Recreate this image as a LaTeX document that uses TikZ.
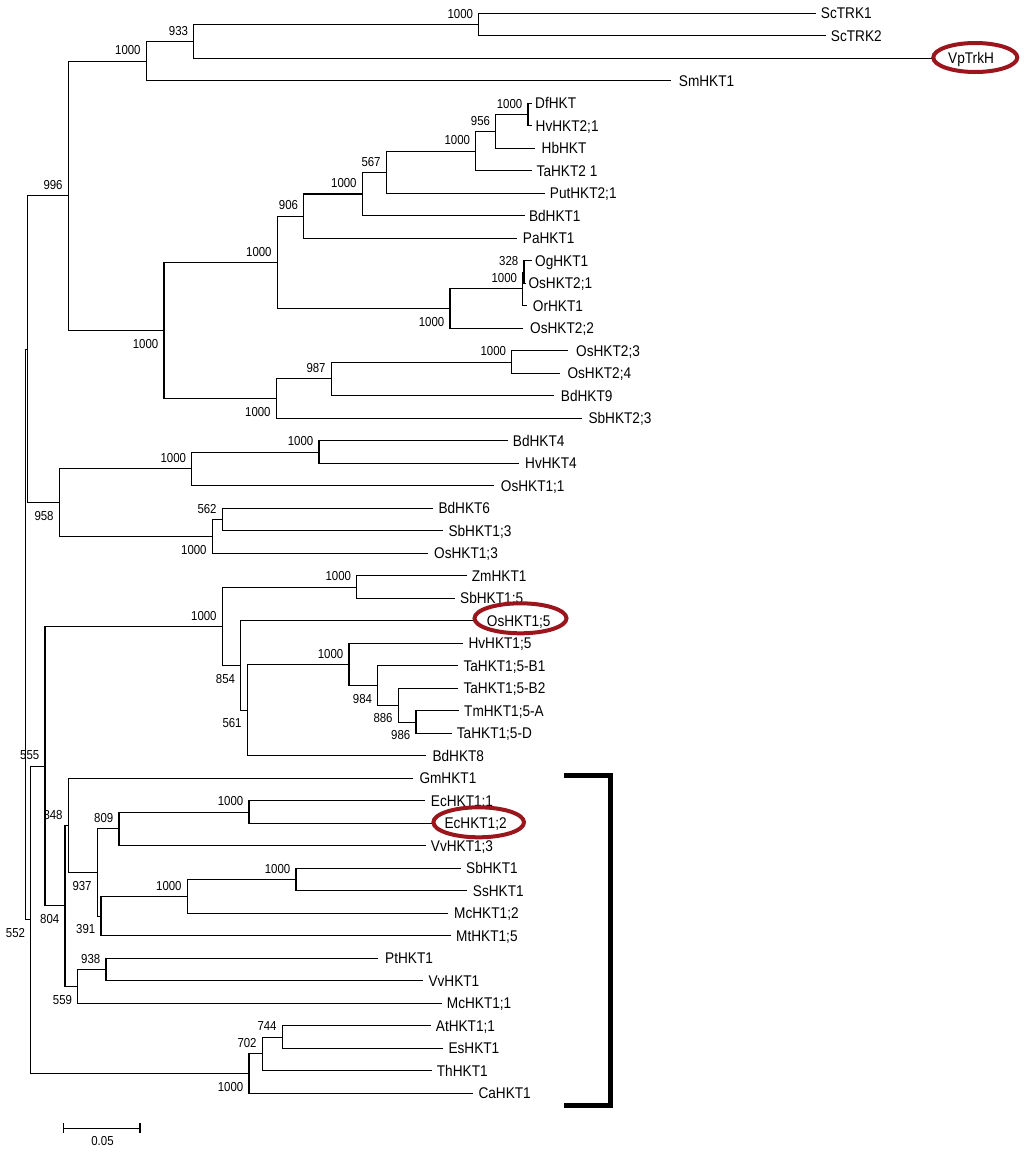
\documentclass[tikz,border=0pt]{standalone}
\usepackage{fontspec}
\setmainfont{Liberation Sans}
\newfontfamily\leaffont[FakeStretch=0.88]{Liberation Sans}
\usetikzlibrary{shapes.geometric}
\definecolor{hlred}{RGB}{155,22,28}
\newcommand{\leafnode}[5]{%
  \coordinate (#1) at (#2,#3);
  \node[leaflab] (#1-t) at (#4,#3+5.5) {#5};}
\tikzset{
  br/.style={line width=1.1pt},
  leaflab/.style={anchor=base west, inner sep=0pt, font=\leaffont\fontsize{15.5}{16}\selectfont},
  bslab/.style={anchor=base east, inner sep=0pt, font=\leaffont\fontsize{13}{14}\selectfont},
  hl/.style={draw=hlred, line width=4pt, ellipse, inner sep=0pt},
}
\begin{document}
\begin{tikzpicture}[x=1pt,y=-1pt]
\useasboundingbox (0,0) rectangle (1024,1152);
\fill[white] (0,0) rectangle (1024,1152);

% internal nodes
\coordinate (nsc) at (478.7,24.55);
\coordinate (n933) at (193.7,41.43);
\coordinate (na1) at (146.3,61.11);
\coordinate (ndf) at (528,114.55);
\coordinate (n956) at (495.7,131.43);
\coordinate (nb1) at (475.7,151.11);
\coordinate (n567) at (386.3,172.2);
\coordinate (nc1) at (362.3,194.0);
\coordinate (n906) at (303.7,216.15);
\coordinate (n328) at (524,272.05);
\coordinate (nd1) at (522.7,288.93);
\coordinate (ne1) at (450,308.6);
\coordinate (nf1) at (277.3,262.38);
\coordinate (ng1) at (511.7,362.05);
\coordinate (n987) at (331.3,378.93);
\coordinate (nh1) at (276.3,398.6);
\coordinate (ni1) at (164,330.49);
\coordinate (n996) at (68.3,195.8);
\coordinate (nj1) at (319,452.05);
\coordinate (nk1) at (191.7,468.93);
\coordinate (n562) at (222.3,519.55);
\coordinate (nl1) at (212.3,536.43);
\coordinate (n958) at (59.3,502.68);
\coordinate (nA) at (27.3,349.24);
\coordinate (nm1) at (356.7,587.05);
\coordinate (n986) at (416,722.05);
\coordinate (n886) at (398.3,705.18);
\coordinate (n984) at (377.7,685.49);
\coordinate (nn1) at (349,664.4);
\coordinate (n561) at (247.3,710.1);
\coordinate (n854) at (240.7,665.45);
\coordinate (no1) at (222.3,626.25);
\coordinate (np1) at (249,812.05);
\coordinate (n809) at (119,828.93);
\coordinate (nq1) at (296,879.55);
\coordinate (nr1) at (187.3,896.43);
\coordinate (n391) at (101,916.11);
\coordinate (n937) at (97.3,872.52);
\coordinate (n348) at (68.3,825.41);
\coordinate (n938) at (106,969.55);
\coordinate (n559) at (77.7,986.43);
\coordinate (n804) at (65,905.92);
\coordinate (n555) at (45,766.09);
\coordinate (n744) at (282.3,1037.05);
\coordinate (n702) at (262.3,1053.93);
\coordinate (ns1) at (249,1073.61);
\coordinate (n552) at (30.7,919.85);
\coordinate (root) at (25.3,634.5);

% leaves: name, line end x, y, text x, text
\leafnode{l1}{815.7}{13.3}{820.7}{ScTRK1}
\leafnode{l2}{825.7}{35.8}{830.7}{ScTRK2}
\leafnode{l3}{933.3}{58.3}{948}{VpTrkH}
\leafnode{l4}{671}{80.8}{678.7}{SmHKT1}
\leafnode{l5}{531.6}{103.3}{535}{DfHKT}
\leafnode{l6}{531.6}{125.8}{535.5}{HvHKT2;1}
\leafnode{l7}{535}{148.3}{541.5}{HbHKT}
\leafnode{l8}{532.3}{170.8}{536.5}{TaHKT2 1}
\leafnode{l9}{544.5}{193.3}{549.7}{PutHKT2;1}
\leafnode{l10}{525.3}{215.8}{528.8}{BdHKT1}
\leafnode{l11}{516.7}{238.3}{522.7}{PaHKT1}
\leafnode{l12}{531.7}{260.8}{535}{OgHKT1}
\leafnode{l13}{526}{283.3}{528.3}{OsHKT2;1}
\leafnode{l14}{526.7}{305.8}{532.7}{OrHKT1}
\leafnode{l15}{522.7}{328.3}{530}{OsHKT2;2}
\leafnode{l16}{568.3}{350.8}{576}{OsHKT2;3}
\leafnode{l17}{560}{373.3}{567.3}{OsHKT2;4}
\leafnode{l18}{554}{395.8}{560.7}{BdHKT9}
\leafnode{l19}{581.7}{418.3}{588.3}{SbHKT2;3}
\leafnode{l20}{508.3}{440.8}{512.7}{BdHKT4}
\leafnode{l21}{519.3}{463.3}{525}{HvHKT4}
\leafnode{l22}{494.3}{485.8}{500.7}{OsHKT1;1}
\leafnode{l23}{432.7}{508.3}{438.3}{BdHKT6}
\leafnode{l24}{442.7}{530.8}{448.3}{SbHKT1;3}
\leafnode{l25}{427.7}{553.3}{434}{OsHKT1;3}
\leafnode{l26}{466.7}{575.8}{471.7}{ZmHKT1}
\leafnode{l27}{455}{598.3}{460}{SbHKT1;5}
\leafnode{l28}{474.3}{620.8}{486.7}{OsHKT1;5}
\leafnode{l29}{463.3}{643.3}{468.3}{HvHKT1;5}
\leafnode{l30}{458.3}{665.8}{463.3}{TaHKT1;5-B1}
\leafnode{l31}{458.3}{688.3}{463.3}{TaHKT1;5-B2}
\leafnode{l32}{459}{710.8}{464}{TmHKT1;5-A}
\leafnode{l33}{451.7}{733.3}{456.7}{TaHKT1;5-D}
\leafnode{l34}{425.7}{755.8}{432.3}{BdHKT8}
\leafnode{l35}{413.3}{778.3}{419.3}{GmHKT1}
\leafnode{l36}{425}{800.8}{430.7}{EcHKT1;1}
\leafnode{l37}{433.3}{823.3}{444.3}{EcHKT1;2}
\leafnode{l38}{425.7}{845.8}{430.7}{VvHKT1;3}
\leafnode{l39}{460.7}{868.3}{466}{SbHKT1}
\leafnode{l40}{467.3}{890.8}{472.7}{SsHKT1}
\leafnode{l41}{448.3}{913.3}{454}{McHKT1;2}
\leafnode{l42}{450.7}{935.8}{456}{MtHKT1;5}
\leafnode{l43}{378.3}{958.3}{385}{PtHKT1}
\leafnode{l44}{423.3}{980.8}{428.3}{VvHKT1}
\leafnode{l45}{441.7}{1003.3}{446.7}{McHKT1;1}
\leafnode{l46}{430.7}{1025.8}{435.7}{AtHKT1;1}
\leafnode{l47}{443.3}{1048.3}{448.3}{EsHKT1}
\leafnode{l48}{431.7}{1070.8}{436.7}{ThHKT1}
\leafnode{l49}{473.3}{1093.3}{478.3}{CaHKT1}

% branches: parent / upper child / lower child
\foreach \p/\a/\b in {root/nA/n552, nA/n996/n958, n996/na1/ni1, na1/n933/l4,
  n933/nsc/l3, nsc/l1/l2, ni1/nf1/nh1, nf1/n906/ne1, n906/nc1/l11, nc1/n567/l10,
  n567/nb1/l9, nb1/n956/l8, n956/ndf/l7, ndf/l5/l6, ne1/nd1/l15, nd1/n328/l14,
  n328/l12/l13, nh1/n987/l19, n987/ng1/l18, ng1/l16/l17, n958/nk1/nl1, nk1/nj1/l22,
  nj1/l20/l21, nl1/n562/l25, n562/l23/l24, n552/n555/ns1, n555/no1/n804,
  no1/nm1/n854, nm1/l26/l27, n854/l28/n561, n561/nn1/l34, nn1/l29/n984,
  n984/l30/n886, n886/l31/n986, n986/l32/l33, n804/n348/n559, n348/l35/n937,
  n937/n809/n391, n809/np1/l38, np1/l36/l37, n391/nr1/l42, nr1/nq1/l41,
  nq1/l39/l40, n559/n938/l45, n938/l43/l44, ns1/n702/l49, n702/n744/l48, n744/l46/l47}
  \draw[br] (\a) -| (\p) |- (\b);

% bootstrap values
\foreach \n/\t in {nsc/1000, n933/933, na1/1000, n996/996, ndf/1000, n956/956, nb1/1000,
  n567/567, nc1/1000, n906/906, nf1/1000, n328/328, nd1/1000, ng1/1000, n987/987,
  nj1/1000, nk1/1000, n562/562, nm1/1000, no1/1000, nn1/1000, np1/1000, n809/809,
  nq1/1000, nr1/1000, n348/348, n938/938, n744/744, n702/702, n555/555}
  \node[bslab] (lab-\n) at ([xshift=-5.5pt,yshift=6.2pt]\n) {\t};
\foreach \n/\t in {ne1/1000, ni1/1000, nh1/1000, n958/958, nl1/1000, n854/854, n561/561,
  n984/984, n886/886, n986/986, n937/937, n391/391, n559/559, n804/804, ns1/1000, n552/552}
  \node[bslab] (lab-\n) at ([xshift=-5.5pt,yshift=-17.6pt]\n) {\t};

% highlight ellipses
\node[hl, minimum width=84pt, minimum height=29pt] (hl-VpTrkH) at (975.3,57.5) {};
\node[hl, minimum width=92pt, minimum height=30pt] (hl-OsHKT15) at (520.5,618.3) {};
\node[hl, minimum width=90.6pt, minimum height=30pt] (hl-EcHKT12) at (478.7,822.3) {};

% bracket
\coordinate (bk1) at (564.3,775.8);
\coordinate (bk2) at (610.8,775.8);
\coordinate (bk3) at (610.8,1105.2);
\coordinate (bk4) at (564.3,1105.2);
\draw[line width=5pt, miter limit=10] (bk1) -- (bk2) -- (bk3) -- (bk4);

% scale bar
\coordinate (sb1) at (63.3,1128.3);
\coordinate (sb2) at (140,1128.3);
\draw[br] (sb1) -- (sb2);
\draw[br] ([yshift=5pt]sb1) -- ([yshift=-5pt]sb1);
\draw[br] ([yshift=5pt]sb2) -- ([yshift=-5pt]sb2);
\node[bslab, anchor=center] (sbl) at (102.5,1141) {0.05};
\end{tikzpicture}
\end{document}
